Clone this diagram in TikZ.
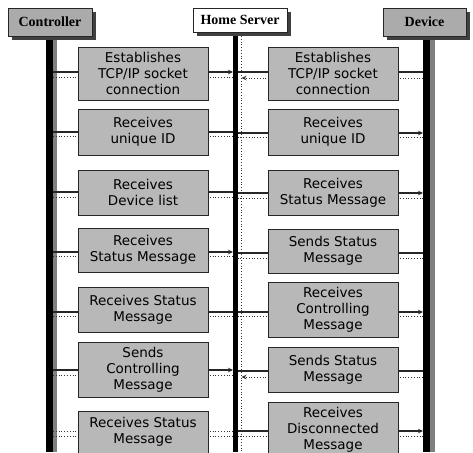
\documentclass[tikz,border=0pt]{standalone}
\usepackage{fontspec}
\setmainfont{DejaVu Sans}
\newfontfamily\hdfont{Liberation Serif}
\usetikzlibrary{arrows.meta,shadows}
\begin{document}
\begin{tikzpicture}[x=1pt,y=-1pt,
  hdr/.style={draw=black!85, line width=0.8pt, inner sep=0pt,
    font=\hdfont\bfseries\fontsize{14}{16}\selectfont,
    general shadow={shadow xshift=4pt, shadow yshift=-4pt, fill=black!75}},
  act/.style={draw=black!85, fill=black!28, line width=0.9pt, inner sep=0pt,
    font=\fontsize{13.5}{16}\selectfont, align=center, minimum width=130pt},
  msg/.style={line width=1.1pt, black!85},
  ret/.style={dotted, line width=0.8pt, black!80},
  tip/.style={-{Stealth[length=5pt,width=4.5pt]}}]
\useasboundingbox (0,0) rectangle (473,452);
\fill[white] (0,0) rectangle (473,452);

% headers
\node[hdr, fill=black!33, minimum width=84pt, minimum height=28pt] (ctrl) at (50,22) {Controller};
\node[hdr, fill=white, minimum width=94pt, minimum height=24pt] (hs) at (240,20) {Home Server};
\node[hdr, fill=black!33, minimum width=83pt, minimum height=28pt] (dev) at (424.5,22) {Device};

% lifelines
\fill[black] (46,40) rectangle (53,452);
\fill[black!50] (53,40) rectangle (57,452);
\fill[black] (233,36) rectangle (237.5,452);
\draw[ret] (241.5,36) -- (241.5,452);
\fill[black] (423,40) rectangle (430,452);
\fill[black!50] (430,40) rectangle (435,452);

\coordinate (cx) at (53,0);
\coordinate (hx) at (233,0);
\coordinate (hr) at (237.5,0);
\coordinate (hd) at (241.5,0);
\coordinate (dx) at (423,0);

% row 1
\coordinate (a1) at (0,72); \coordinate (b1) at (0,77);
\draw[msg,tip] (cx |- a1) -- (hx |- a1);
\draw[ret] (cx |- b1) -- (hx |- b1);
\draw[msg] (hr |- a1) -- (dx |- a1);
\draw[ret,tip] (dx |- 0,78) -- (hd |- 0,78);
% row 2
\coordinate (a2) at (0,132); \coordinate (b2) at (0,136);
\draw[msg] (cx |- a2) -- (hx |- a2);
\draw[ret] (cx |- b2) -- (hx |- b2);
\draw[msg,tip] (hr |- 0,133) -- (dx |- 0,133);
\draw[ret] (hr |- 0,137) -- (dx |- 0,137);
% row 3
\coordinate (a3) at (0,192); \coordinate (b3) at (0,197);
\draw[msg] (cx |- a3) -- (hx |- a3);
\draw[ret] (cx |- b3) -- (hx |- b3);
\draw[msg,tip] (hr |- 0,193) -- (dx |- 0,193);
\draw[ret] (hr |- 0,198) -- (dx |- 0,198);
% row 4
\coordinate (a4) at (0,252); \coordinate (b4) at (0,256);
\draw[msg,tip] (cx |- a4) -- (hx |- a4);
\draw[ret] (cx |- b4) -- (hx |- b4);
\draw[msg] (hr |- 0,253) -- (dx |- 0,253);
\draw[ret] (hr |- 0,258) -- (dx |- 0,258);
% row 5
\coordinate (a5) at (0,312); \coordinate (b5) at (0,316);
\draw[msg] (cx |- a5) -- (hx |- a5);
\draw[ret] (cx |- b5) -- (hx |- b5);
\draw[msg,tip] (hr |- a5) -- (dx |- a5);
\draw[ret] (hr |- b5) -- (dx |- b5);
% row 6
\coordinate (a6) at (0,370); \coordinate (b6) at (0,375);
\draw[msg,tip] (cx |- a6) -- (hx |- a6);
\draw[ret] (cx |- b6) -- (hx |- b6);
\draw[msg] (hr |- 0,371) -- (dx |- 0,371);
\draw[ret,tip] (dx |- 0,377) -- (hd |- 0,377);
% row 7
\coordinate (a7) at (0,431); \coordinate (b7) at (0,436);
\draw[ret] (cx |- a7) -- (hx |- a7);
\draw[ret] (cx |- b7) -- (hx |- b7);
\draw[msg,tip] (hr |- a7) -- (dx |- a7);
\draw[ret] (hr |- b7) -- (dx |- b7);

% controller-side boxes
\node[act, minimum height=53pt] (l1) at (143,73.5) {Establishes\\TCP/IP socket\\connection};
\node[act, minimum height=46pt] (l2) at (143,132) {Receives\\unique ID};
\node[act, minimum height=45pt] (l3) at (143,192.5) {Receives\\Device list};
\node[act, minimum height=44pt] (l4) at (143,250) {Receives\\Status Message};
\node[act, minimum height=45pt] (l5) at (143,309.5) {Receives Status\\Message};
\node[act, minimum height=55pt] (l6) at (143,369.5) {Sends\\Controlling\\Message};
\node[act, minimum height=42pt] (l7) at (143,432) {Receives Status\\Message};

% device-side boxes
\node[act, minimum height=53pt] (r1) at (333,73.5) {Establishes\\TCP/IP socket\\connection};
\node[act, minimum height=46pt] (r2) at (333,132) {Receives\\unique ID};
\node[act, minimum height=45pt] (r3) at (333,192.5) {Receives\\Status Message};
\node[act, minimum height=44pt] (r4) at (333,251) {Sends Status\\Message};
\node[act, minimum height=55pt] (r5) at (333,309.5) {Receives\\Controlling\\Message};
\node[act, minimum height=45pt] (r6) at (333,369.5) {Sends Status\\Message};
\node[act, minimum height=56pt] (r7) at (333,430) {Receives\\Disconnected\\Message};
\end{tikzpicture}
\end{document}
